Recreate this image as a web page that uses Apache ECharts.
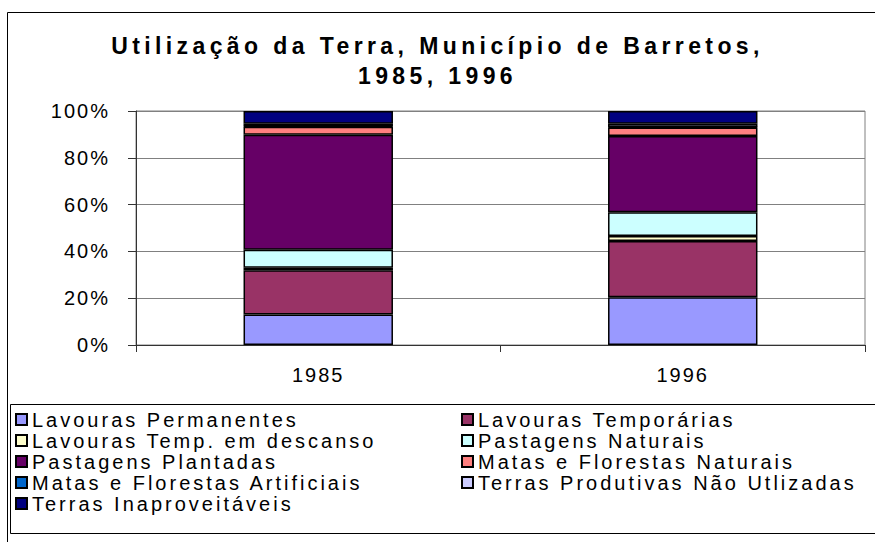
<!DOCTYPE html>
<html>
<head>
<meta charset="utf-8">
<title>Utilização da Terra, Município de Barretos, 1985, 1996</title>
<script src="https://cdn.jsdelivr.net/npm/echarts@6/dist/echarts.min.js"></script>
<style>
  html, body { margin: 0; padding: 0; background: #fff; }
  #main { width: 875px; height: 542px; }
</style>
</head>
<body>
<div id="main"></div>
<script>
// dados (% da área total)
const anos = ["1985", "1996"];
const lavourasPermanentes = [13.0, 20.4];
const lavourasTemporarias = [18.9, 24.0];
const lavourasDescanso = [1.1, 2.2];
const pastagensNaturais = [7.7, 10.1];
const pastagensPlantadas = [49.2, 32.6];
const matasNaturais = [3.4, 3.7];
const matasArtificiais = [0.2, 0.2];
const terrasNaoUtilizadas = [1.0, 1.4];
const terrasInaproveitaveis = [5.5, 5.4];

const tituloLinhas = ["Utilização da Terra, Município de Barretos,", "1985, 1996"];

const series = [
  ["Lavouras Permanentes", lavourasPermanentes, "#9999FF"],
  ["Lavouras Temporárias", lavourasTemporarias, "#993366"],
  ["Lavouras Temp. em descanso", lavourasDescanso, "#FFFFCC"],
  ["Pastagens Naturais", pastagensNaturais, "#CCFFFF"],
  ["Pastagens Plantadas", pastagensPlantadas, "#660066"],
  ["Matas e Florestas Naturais", matasNaturais, "#FF8080"],
  ["Matas e Florestas Artificiais", matasArtificiais, "#0066CC"],
  ["Terras Produtivas Não Utlizadas", terrasNaoUtilizadas, "#CCCCFF"],
  ["Terras Inaproveitáveis", terrasInaproveitaveis, "#000080"],
];
const nomes = series.map(function (s) { return s[0]; });

const fonte = "'Liberation Sans', Arial, sans-serif";
const legendaTexto = { fontSize: 20, color: "#000", fontFamily: fonte, lineHeight: 21 };

var myChart = echarts.init(document.getElementById("main"), null, { renderer: "svg" });

var option = {
  animation: false,
  backgroundColor: "#fff",
  title: {
    text: tituloLinhas.join("\n"),
    left: "center",
    top: 26,
    textStyle: { fontSize: 23, fontWeight: "bold", color: "#000", fontFamily: fonte, lineHeight: 30 },
  },
  graphic: [
    { type: "rect", shape: { x: 7.5, y: 12.5, width: 880, height: 545 }, style: { fill: "none", stroke: "#000", lineWidth: 1 }, silent: true },
    { type: "rect", shape: { x: 10.5, y: 404.5, width: 880, height: 129 }, style: { fill: "none", stroke: "#000", lineWidth: 1 }, silent: true },
  ],
  legend: [
    {
      data: nomes.filter(function (n, i) { return i % 2 === 0; }),
      orient: "vertical",
      left: 15,
      top: 409,
      itemWidth: 11,
      itemHeight: 11,
      itemGap: 0,
      icon: "rect",
      textStyle: legendaTexto,
      padding: 0,
    },
    {
      data: nomes.filter(function (n, i) { return i % 2 === 1; }),
      orient: "vertical",
      left: 461,
      top: 409,
      itemWidth: 11,
      itemHeight: 11,
      itemGap: 0,
      icon: "rect",
      textStyle: legendaTexto,
      padding: 0,
    },
  ],
  grid: {
    left: 136,
    right: 10,
    top: 111,
    bottom: 197,
    show: true,
    borderColor: "#808080",
    borderWidth: 1,
  },
  xAxis: {
    type: "category",
    data: anos,
    axisLine: { lineStyle: { color: "#333", width: 1 } },
    axisTick: { show: true, length: 7, lineStyle: { color: "#333" } },
    axisLabel: { fontSize: 20, color: "#000", fontFamily: fonte, margin: 20 },
  },
  yAxis: {
    type: "value",
    min: 0,
    max: 100,
    interval: 20,
    axisLine: { show: true, lineStyle: { color: "#333", width: 1 } },
    axisTick: { show: true, length: 8, lineStyle: { color: "#333" } },
    axisLabel: { formatter: "{value}%", fontSize: 20, color: "#000", fontFamily: fonte, margin: 26 },
    splitLine: { lineStyle: { color: "#808080", width: 1 } },
  },
  series: series.map(function (s) {
    return {
      name: s[0],
      type: "bar",
      stack: "total",
      data: s[1],
      barWidth: "41%",
      itemStyle: { color: s[2], borderColor: "#000", borderWidth: 1.5 },
    };
  }),
};

myChart.setOption(option);

// espaçamento entre letras como no original
function espacar() {
  document.querySelectorAll("#main text").forEach(function (t) {
    const s = t.textContent;
    if (s.indexOf("Barretos") >= 0 || s === tituloLinhas[1]) t.style.letterSpacing = "4.4px";
    else if (nomes.indexOf(s) >= 0) t.style.letterSpacing = "3px";
    else t.style.letterSpacing = "2px";
  });
}
myChart.on("finished", espacar);
espacar();
</script>
</body>
</html>
